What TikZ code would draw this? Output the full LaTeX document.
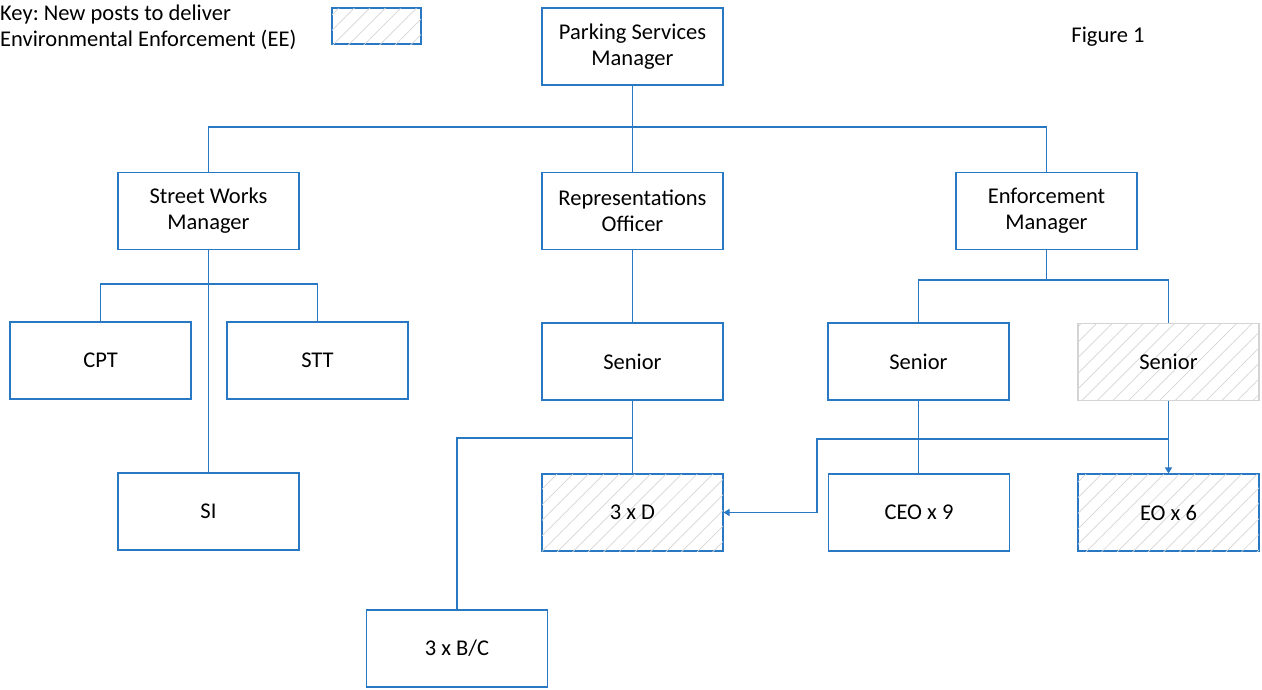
\documentclass[tikz,border=0pt]{standalone}
\usepackage{fontspec}
\setmainfont{Carlito}
\frenchspacing
\usetikzlibrary{arrows.meta,patterns.meta}
\definecolor{lineblue}{RGB}{40,120,196}
\definecolor{hatchgray}{RGB}{214,214,214}
\definecolor{hatchborder}{RGB}{212,212,212}
\tikzset{
  box/.style={draw=lineblue, line width=1.1pt, fill=white, minimum width=181pt, minimum height=77pt, inner sep=0pt, align=center, font=\fontsize{22.5}{26}\selectfont},
  hatched/.style={postaction={pattern={Lines[angle=45,distance=11pt,line width=0.7pt]}, pattern color=hatchgray}},
  conn/.style={draw=lineblue, line width=1.6pt},
  arr/.style={conn, -{Triangle[length=6pt,width=7pt]}},
  plain/.style={inner sep=0pt, font=\fontsize{22.5}{26}\selectfont}
}
\begin{document}
\begin{tikzpicture}[x=1pt,y=-1pt]
\useasboundingbox (0,0) rectangle (1262,689);
% key
\node[plain, anchor=west, align=left] (keytext) at (0,27) {Key: New posts to deliver\\Environmental Enforcement (EE)};
\node[box, hatched, minimum width=89pt, minimum height=36pt] (keybox) at (376.5,26) {};
\node[plain] (fig) at (1108,37) {Figure 1};
% boxes
\node[box] (psm) at (632.5,46.5) {Parking Services\\Manager};
\node[box] (swm) at (208.5,211) {Street Works\\Manager};
\node[box] (rep) at (632.5,211) {Representations\\Officer};
\node[box] (em) at (1046.5,211) {Enforcement\\Manager};
\node[box] (cpt) at (100.5,360.5) {CPT};
\node[box] (stt) at (317.5,360.5) {STT};
\node[box] (si) at (208.5,511.5) {SI};
\node[box] (srep) at (632.5,361.5) {Senior};
\node[box] (senf) at (918.5,361.5) {Senior};
\node[box, hatched, draw=hatchborder] (shat) at (1168.5,362) {Senior};
\node[box, hatched] (d3) at (632.5,512.5) {3 x D};
\node[box] (ceo) at (919,512.5) {CEO x 9};
\node[box, hatched] (eo) at (1168.5,512.5) {EO x 6};
\node[box] (bc) at (457,648.5) {3 x B/C};
% junctions
\coordinate (j1) at (632.5,127);
\coordinate (j2) at (208.5,284);
\coordinate (j3) at (632.5,438);
\coordinate (j4) at (1046.5,280);
\coordinate (j5) at (817,439);
% connectors
\draw[conn] (psm.south) -- (rep.north);
\draw[conn] (swm.north) -- (swm.north |- j1) -- (em.north |- j1) -- (em.north);
\draw[conn] (swm.south) -- (si.north);
\draw[conn] (cpt.north) -- (cpt.north |- j2) -- (stt.north |- j2) -- (stt.north);
\draw[conn] (rep.south) -- (srep.north);
\draw[conn] (srep.south) -- (d3.north);
\draw[conn] (j3) -- (bc.north |- j3) -- (bc.north);
\draw[conn] (em.south) -- (j4);
\draw[conn] (senf.north) -- (senf.north |- j4) -- (shat.north |- j4) -- (shat.north);
\draw[conn] (senf.south) -- (ceo.north -| senf.south);
\draw[arr] (shat.south) -- (eo.north);
\draw[arr] (shat.south |- j5) -- (j5) -- (j5 |- d3.east) -- (d3.east);
\end{tikzpicture}
\end{document}
